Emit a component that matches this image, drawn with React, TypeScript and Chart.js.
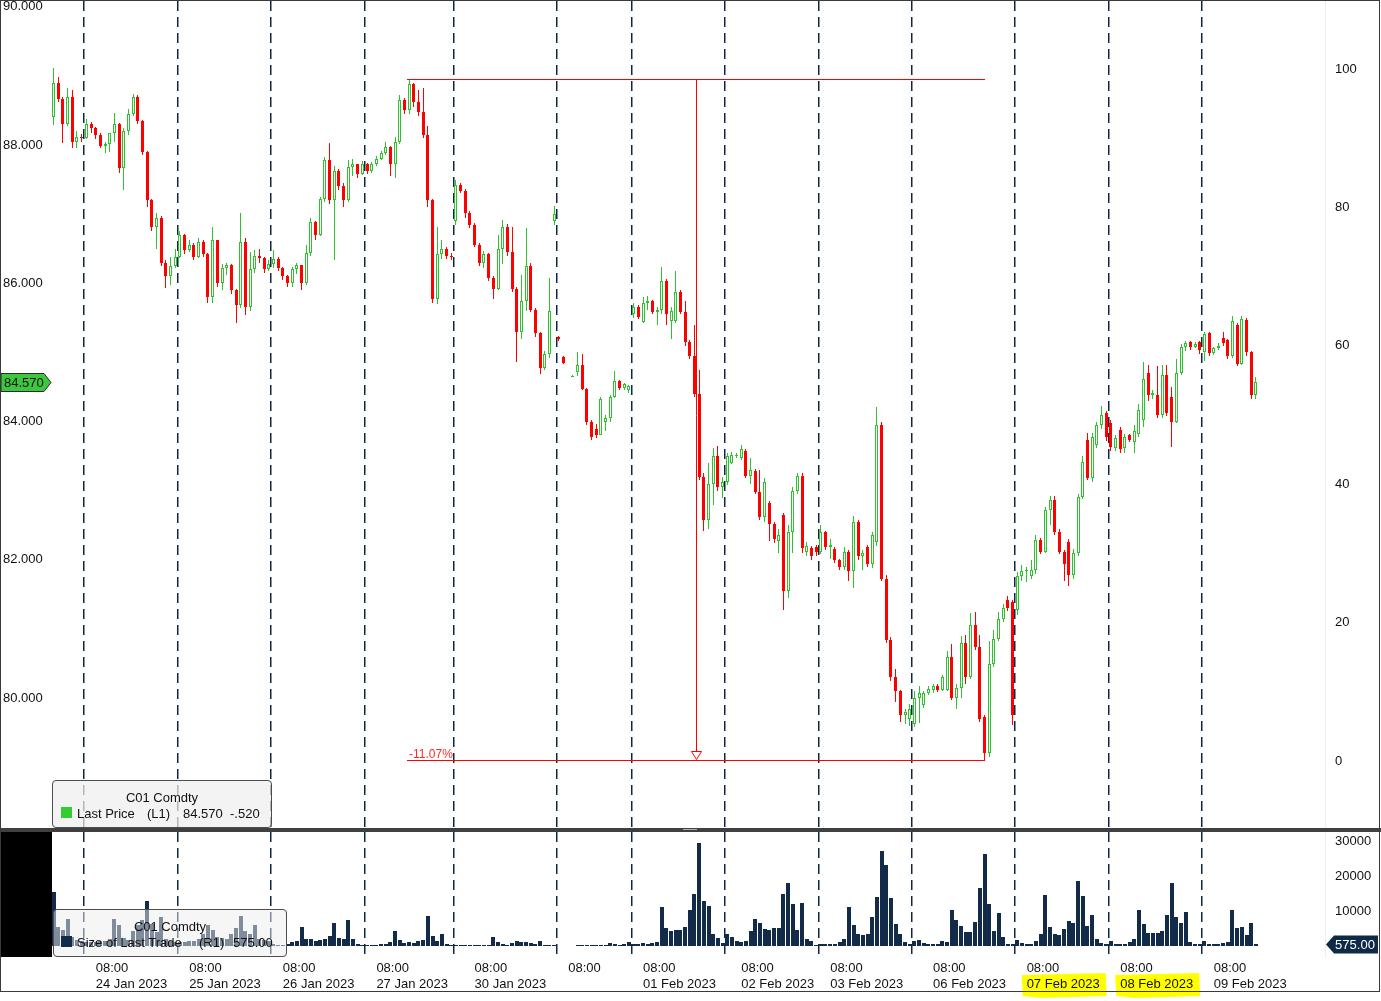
import React, { useEffect, useRef } from 'react';
import { Chart, registerables } from 'chart.js';

Chart.register(...registerables);

// ---------------- DATA ----------------
const opens = [
  88.40, 88.90, 88.66, 88.30, 88.70, 88.05, 88.12, 88.10, 88.30, 88.24,
  88.15, 87.98, 88.02, 88.17, 88.30, 87.67, 88.20, 88.45, 88.70, 88.34,
  87.90, 87.20, 86.82, 86.95, 86.30, 86.10, 86.25, 86.38, 86.70, 86.48,
  86.55, 86.38, 86.60, 86.42, 85.80, 86.62, 86.00, 86.22, 86.26, 85.90,
  85.69, 86.60, 85.66, 86.20, 86.40, 86.36, 86.20, 86.28, 86.35, 86.22,
  86.10, 86.00, 86.20, 86.26, 86.00, 86.44, 86.89, 86.70, 87.22, 87.78,
  87.20, 87.62, 87.40, 87.20, 87.68, 87.72, 87.58, 87.72, 87.62, 87.72,
  87.80, 87.88, 87.97, 87.72, 88.05, 88.65, 88.50, 88.88, 88.62, 88.48,
  88.15, 87.20, 85.78, 86.42, 86.50, 86.40, 86.90, 87.42, 87.34, 87.02,
  86.85, 86.56, 86.30, 86.42, 86.08, 85.92, 86.50, 86.82, 86.45, 85.92,
  85.30, 85.75, 86.25, 85.62, 85.28, 84.77, 84.98, 86.90, 85.22, 84.93,
  null, 84.65, 84.72, 84.82, 84.47, 84.00, 83.90, 83.80, 84.00, 84.05,
  84.36, 84.58, 84.48, 84.46, 85.56, 85.66, 85.44, 85.72, 85.74, 85.58,
  85.62, 86.04, 85.45, 85.45, 85.87, 85.58, 85.15, 84.95, 84.40, 83.20,
  82.58, 83.10, 83.50, 83.05, 83.12, 83.40, 83.50, 83.47, 83.58, 83.22,
  83.28, 82.98, 82.62, 82.82, 82.52, 82.28, 82.65, 81.55, 82.40, 83.00,
  83.21, 82.12, 82.17, 82.18, 82.12, 82.40, 82.18, 82.16, 82.00, 81.90,
  82.12, 81.84, 82.55, 82.05, 82.19, 81.94, 82.26, 83.95, 81.73, 80.84,
  80.31, 80.10, 79.75, 79.70, 79.62, 80.00, 79.90, 80.07, 80.12, 80.18,
  80.12, 80.12, 80.59, 80.01, 80.15, 80.80, 80.30, 81.06, 80.74, 79.73,
  79.21, 80.50, 80.85, 81.15, 81.42, 81.39, 81.28, 81.76, 81.84, 81.76,
  81.86, 82.29, 82.12, 82.72, 82.86, 82.40, 82.12, 82.26, 81.78, 82.10,
  82.91, 83.73, 83.19, 83.66, 83.95, 84.13, 83.98, 83.62, 83.88, 83.62,
  83.80, 83.70, 83.82, 84.02, 84.70, 84.38, 84.38, 84.10, 84.67, 84.36,
  84.00, 84.71, 85.08, 85.15, 85.08, 85.15, 85.00, 85.28, 84.99, 85.06,
  85.21, 85.18, 84.95, 85.40, 84.84, 85.47, 85.00, 84.38,
];

const highs = [
  89.11, 88.98, 88.70, 88.82, 88.80, 88.20, 88.16, 88.38, 88.33, 88.26,
  88.17, 88.05, 88.17, 88.46, 88.32, 88.25, 88.52, 88.74, 88.72, 88.36,
  87.92, 87.22, 87.02, 86.97, 86.33, 86.38, 86.50, 86.75, 86.72, 86.62,
  86.58, 86.65, 86.62, 86.44, 86.82, 86.63, 86.28, 86.30, 86.28, 85.92,
  87.02, 86.65, 86.45, 86.48, 86.50, 86.38, 86.33, 86.48, 86.38, 86.23,
  86.12, 86.24, 86.30, 86.27, 86.55, 86.95, 86.90, 87.25, 87.82, 88.03,
  87.70, 87.65, 87.45, 87.78, 87.80, 87.73, 87.77, 87.74, 87.76, 87.84,
  87.92, 88.05, 87.98, 88.12, 88.72, 88.68, 88.96, 88.90, 88.80, 88.82,
  88.28, 87.22, 86.82, 86.63, 86.52, 86.44, 87.50, 87.45, 87.36, 87.05,
  86.87, 86.58, 86.46, 86.44, 86.10, 86.70, 86.92, 86.86, 86.82, 85.95,
  86.12, 86.80, 86.30, 85.65, 85.30, 85.02, 86.08, 87.12, 85.24, 84.95,
  null, 84.67, 85.00, 84.98, 84.48, 84.02, 83.97, 84.36, 84.10, 84.38,
  84.73, 84.60, 84.56, 84.53, 85.72, 85.68, 85.80, 85.82, 85.76, 85.66,
  86.24, 86.06, 85.66, 86.18, 85.90, 85.74, 85.18, 85.40, 84.75, 83.25,
  83.40, 83.62, 83.64, 83.20, 83.55, 83.56, 83.54, 83.66, 83.60, 83.48,
  83.32, 83.30, 83.18, 82.85, 82.55, 82.45, 82.68, 82.50, 83.05, 83.26,
  83.25, 82.26, 82.20, 82.22, 82.50, 82.42, 82.30, 82.18, 82.02, 82.18,
  82.14, 82.64, 82.58, 82.14, 82.22, 82.40, 84.21, 84.00, 81.78, 80.88,
  80.42, 80.12, 79.84, 79.92, 80.10, 80.18, 80.10, 80.18, 80.20, 80.20,
  80.34, 80.68, 80.78, 80.20, 80.90, 80.92, 81.23, 81.24, 80.92, 79.76,
  80.82, 80.98, 81.25, 81.36, 81.48, 81.42, 81.82, 81.92, 81.90, 82.00,
  82.36, 82.32, 82.76, 82.93, 82.92, 82.45, 82.15, 82.30, 82.16, 82.96,
  83.50, 83.84, 83.84, 84.00, 84.22, 84.16, 84.02, 83.80, 83.92, 83.82,
  83.82, 83.95, 84.25, 84.86, 84.82, 84.45, 84.80, 84.82, 84.82, 84.50,
  84.90, 85.12, 85.16, 85.17, 85.15, 85.17, 85.30, 85.29, 85.08, 85.14,
  85.30, 85.20, 85.52, 85.42, 85.52, 85.50, 85.02, 84.65,
];

const lows = [
  88.29, 88.62, 88.03, 88.28, 87.95, 87.96, 88.05, 88.08, 88.18, 88.08,
  87.95, 87.88, 87.90, 88.05, 87.60, 87.35, 88.15, 88.42, 88.30, 87.85,
  87.10, 86.75, 86.50, 86.25, 85.93, 85.98, 86.22, 86.36, 86.42, 86.45,
  86.33, 86.36, 86.38, 85.72, 85.72, 85.95, 85.90, 86.12, 85.85, 85.43,
  85.65, 85.54, 85.60, 86.15, 86.30, 86.15, 86.18, 86.22, 86.18, 86.05,
  85.95, 85.95, 86.14, 85.90, 85.98, 86.40, 86.62, 86.68, 87.18, 87.15,
  86.34, 87.35, 87.10, 87.18, 87.55, 87.52, 87.56, 87.58, 87.60, 87.70,
  87.78, 87.85, 87.55, 87.52, 88.02, 88.45, 88.45, 88.55, 88.42, 88.10,
  87.10, 85.71, 85.70, 86.35, 86.35, 86.33, 86.85, 87.30, 86.95, 86.80,
  86.52, 86.25, 86.22, 86.03, 85.78, 85.90, 86.28, 86.40, 85.88, 84.86,
  85.20, 85.60, 85.58, 85.22, 84.69, 84.74, 84.92, 86.85, 85.17, 84.83,
  null, 84.64, 84.66, 84.45, 83.95, 83.74, 83.76, 83.80, 83.86, 84.00,
  84.34, 84.45, 84.46, 84.42, 85.50, 85.48, 85.42, 85.62, 85.55, 85.40,
  85.55, 85.40, 85.20, 85.42, 85.55, 85.10, 84.90, 84.35, 83.15, 82.42,
  82.45, 82.80, 83.00, 82.90, 83.08, 83.38, 83.47, 83.45, 83.18, 83.10,
  82.95, 82.58, 82.55, 82.28, 82.25, 82.10, 81.28, 81.45, 82.10, 82.95,
  82.10, 82.05, 82.00, 82.05, 82.08, 82.15, 82.02, 81.96, 81.86, 81.85,
  81.70, 81.60, 82.00, 81.86, 81.90, 81.88, 82.20, 81.70, 80.80, 80.25,
  79.95, 79.65, 79.62, 79.60, 79.58, 79.64, 79.86, 80.04, 80.08, 80.09,
  80.10, 80.10, 79.98, 79.85, 80.00, 80.20, 80.28, 80.70, 79.65, 79.11,
  79.15, 80.45, 80.82, 81.10, 81.26, 79.61, 81.20, 81.70, 81.68, 81.72,
  81.80, 82.08, 82.10, 82.50, 82.36, 82.08, 81.70, 81.62, 81.72, 82.05,
  82.88, 83.15, 83.12, 83.62, 83.90, 83.72, 83.58, 83.58, 83.55, 83.55,
  83.70, 83.55, 83.78, 83.92, 84.30, 84.33, 84.05, 84.05, 84.08, 83.63,
  83.98, 84.68, 85.02, 85.04, 85.06, 84.98, 84.87, 84.95, 84.97, 85.04,
  85.10, 84.90, 84.92, 84.80, 84.82, 84.95, 84.33, 84.33,
];

const closes = [
  88.90, 88.66, 88.30, 88.70, 88.05, 88.12, 88.10, 88.30, 88.24, 88.15,
  87.98, 88.02, 88.17, 88.30, 87.67, 88.20, 88.45, 88.70, 88.34, 87.90,
  87.20, 86.82, 86.95, 86.30, 86.10, 86.25, 86.38, 86.70, 86.48, 86.55,
  86.38, 86.60, 86.42, 85.80, 86.62, 86.00, 86.22, 86.26, 85.90, 85.69,
  86.60, 85.66, 86.20, 86.40, 86.36, 86.20, 86.28, 86.35, 86.22, 86.10,
  86.00, 86.20, 86.26, 86.00, 86.44, 86.89, 86.70, 87.22, 87.78, 87.20,
  87.62, 87.40, 87.20, 87.68, 87.72, 87.58, 87.72, 87.62, 87.72, 87.80,
  87.88, 87.97, 87.72, 88.05, 88.65, 88.50, 88.88, 88.62, 88.48, 88.15,
  87.20, 85.78, 86.42, 86.50, 86.40, 86.38, 87.42, 87.34, 87.02, 86.85,
  86.56, 86.30, 86.42, 86.08, 85.92, 86.50, 86.82, 86.45, 85.92, 85.30,
  85.75, 86.25, 85.62, 85.28, 84.77, 84.98, 85.60, 87.00, 85.19, 84.85,
  null, 84.66, 84.82, 84.47, 84.00, 83.78, 83.80, 84.33, 84.05, 84.36,
  84.58, 84.48, 84.54, 84.52, 85.66, 85.51, 85.72, 85.74, 85.58, 85.62,
  86.04, 85.56, 85.60, 85.87, 85.58, 85.15, 84.95, 84.40, 83.20, 82.58,
  83.10, 83.50, 83.05, 83.12, 83.50, 83.52, 83.51, 83.60, 83.22, 83.30,
  82.98, 82.62, 83.12, 82.52, 82.30, 82.36, 81.55, 82.40, 83.00, 83.22,
  82.17, 82.20, 82.06, 82.12, 82.40, 82.18, 82.22, 82.00, 81.90, 82.12,
  81.84, 82.55, 82.05, 82.10, 81.94, 82.36, 83.95, 81.73, 80.84, 80.31,
  80.10, 79.75, 79.80, 79.84, 80.00, 80.08, 80.07, 80.14, 80.18, 80.12,
  80.30, 80.59, 80.01, 80.15, 80.80, 80.30, 81.06, 80.74, 79.70, 79.21,
  80.50, 80.85, 81.15, 81.30, 81.30, 79.76, 81.76, 81.84, 81.86, 81.86,
  82.29, 82.12, 82.72, 82.86, 82.40, 82.12, 81.94, 81.78, 82.10, 82.91,
  83.41, 83.19, 83.78, 83.95, 84.10, 83.78, 83.63, 83.76, 83.60, 83.78,
  83.74, 83.86, 84.17, 84.61, 84.38, 84.42, 84.10, 84.67, 84.13, 84.00,
  84.71, 85.08, 85.14, 85.08, 85.12, 85.04, 85.26, 84.99, 85.06, 85.10,
  85.14, 84.95, 85.45, 84.84, 85.48, 85.00, 84.38, 84.57,
];

const tradeSizes = [
  15600, 5600, 4800, 7900, 2700, 1900, 1500, 1300, 1200, 1400,
  1600, 1500, 2000, 7900, 6100, 2500, 1800, 4500, 6100, 7600,
  13000, 6500, 4000, 8400, 2200, 1600, 1300, 1300, 1200, 1500,
  1600, 2000, 3500, 6100, 4600, 2700, 2400, 2000, 3500, 5200,
  8700, 4400, 3500, 6100, 2000, 1800, 1500, 600, 400, 500,
  700, 1200, 1500, 5600, 2200, 2000, 1600, 1800, 2200, 3000,
  6700, 2400, 2200, 7600, 2000, 600, 400, 300, 400, 500,
  600, 700, 1200, 4400, 1800, 1000, 1200, 1000, 1600, 1800,
  8700, 3000, 1500, 3600, 600, 400, 500, 400, 500, 400,
  300, 400, 300, 500, 2700, 1200, 600, 500, 900, 1600,
  1200, 1300, 1000, 600, 1600, 500, 300, 300, 200, 150,
  null, 100, 300, 300, 400, 300, 300, 400, 500, 900,
  600, 400, 800, 1300, 800, 700, 900, 700, 1000, 1200,
  11300, 5200, 4400, 4700, 4800, 5600, 10400, 15000, 29600, 12900,
  11500, 3500, 2500, 1000, 3700, 2700, 1600, 1400, 1500, 4300,
  7900, 6700, 5000, 4800, 5200, 5400, 15000, 18200, 12100, 4700,
  12300, 2000, 1600, 500, 800, 700, 700, 800, 1300, 2200,
  11300, 6000, 3700, 3300, 3700, 8400, 14100, 27200, 23300, 13900,
  6500, 3500, 1300, 700, 1500, 1900, 1000, 700, 700, 700,
  1600, 1200, 10400, 7600, 5900, 4100, 4100, 7000, 16700, 26400,
  12100, 4400, 9600, 2700, 800, 600, 1900, 1000, 700, 700,
  1700, 3500, 14700, 5600, 3500, 3200, 5000, 7300, 6800, 18700,
  14400, 5900, 9000, 2000, 900, 800, 1500, 700, 700, 800,
  1300, 2100, 10400, 6400, 3900, 3800, 3800, 4500, 9000, 18200,
  8400, 6800, 9900, 1300, 700, 700, 1500, 700, 700, 800,
  1000, 1300, 10400, 5300, 5600, 3300, 6700, 575,
];

// first bar index of each trading day (dashed separators)
const dayStartBars = [7, 27, 47, 67, 86, 108, 124, 144, 164, 184, 206, 226, 246];
// bar index of the 08:00 bar of each day (axis labels)
const labelBars = [9, 29, 49, 69, 90, 110, 126, 147, 166, 188, 208, 228, 248];
const timeLabels = ['08:00', '08:00', '08:00', '08:00', '08:00', '08:00', '08:00', '08:00', '08:00', '08:00', '08:00', '08:00', '08:00'];
const dateLabels = ['24 Jan 2023', '25 Jan 2023', '26 Jan 2023', '27 Jan 2023', '30 Jan 2023', '', '01 Feb 2023', '02 Feb 2023', '03 Feb 2023', '06 Feb 2023', '07 Feb 2023', '08 Feb 2023', '09 Feb 2023'];
const highlightedDates = ['07 Feb 2023', '08 Feb 2023'];

const priceTicks = [80, 82, 84, 86, 88, 90];
const drawdownTicks = [0, 20, 40, 60, 80, 100];
const sizeTicks = [10000, 20000, 30000];

const drawdownFrom = 76;
const drawdownTo = 199;
const netChange = -0.52;
const ticker = 'C01 Comdty';

// ---------------- STYLE / LAYOUT ----------------
const FONT = "'Liberation Sans', Arial, sans-serif";
const GREEN = '#2fc22f';
const RED = '#ff0000';
const NAVY = '#122b48';
const DASH = '#0d2744';

const X_MIN = -11.244;
const X_MAX = 271.78;
const P_MIN = 78.1229;
const P_MAX = 90.0824;
const R_MIN = -9.68;
const R_MAX = 109.83;
const V_MIN = -3000;
const V_MAX = 32714;

const last = closes.length - 1;

const setTicks = (values: number[]) => (axis: any) => {
  axis.ticks = values.map((v) => ({ value: v }));
};

const dayGridAxis = () => ({
  type: 'linear',
  axis: 'x',
  position: 'bottom',
  min: X_MIN,
  max: X_MAX,
  offset: false,
  grid: { display: true, offset: false, color: DASH, lineWidth: 1.5, drawTicks: false, borderDash: [10, 6] },
  border: { display: false, dash: [10, 6] },
  ticks: { display: false },
  afterBuildTicks: (axis: any) => {
    axis.ticks = dayStartBars.map((s) => ({ value: s - 0.5 }));
  },
  afterFit: (s: any) => {
    s.height = 0;
    s.paddingLeft = 0;
    s.paddingRight = 0;
  },
});

// snaps bar elements onto the pixel grid so thin candles stay crisp
const pixelSnapPlugin = {
  id: 'pixelSnap',
  afterDatasetsUpdate(chart: any) {
    chart.data.datasets.forEach((_: any, di: number) => {
      const meta = chart.getDatasetMeta(di);
      meta.data.forEach((el: any) => {
        const w = Math.round(el.width || 1);
        el.x = w % 2 === 1 ? Math.floor(el.x) + 0.5 : Math.round(el.x);
        el.y = Math.round(el.y);
        el.base = Math.round(el.base);
      });
    });
  },
};

const drawdownPlugin = {
  id: 'drawdown',
  afterDatasetsDraw(chart: any) {
    const { ctx, scales } = chart;
    const x = scales.x;
    const y = scales.y;
    const hi = highs[drawdownFrom] as number;
    const lo = lows[drawdownTo] as number;
    const x1 = Math.round(x.getPixelForValue(drawdownFrom)) - 2;
    const x2 = Math.round(x.getPixelForValue(drawdownTo));
    const yT = Math.round(y.getPixelForValue(hi)) + 0.5;
    const yB = Math.round(y.getPixelForValue(lo)) + 0.5;
    const xm = Math.round((x1 + x2) / 2) + 0.5;
    ctx.save();
    ctx.strokeStyle = RED;
    ctx.lineWidth = 1;
    ctx.beginPath();
    ctx.moveTo(x1, yT);
    ctx.lineTo(x2, yT);
    ctx.moveTo(x1, yB);
    ctx.lineTo(x2, yB);
    ctx.moveTo(xm, yT);
    ctx.lineTo(xm, yB - 9);
    ctx.stroke();
    ctx.beginPath();
    ctx.moveTo(xm - 5, yB - 9);
    ctx.lineTo(xm + 5, yB - 9);
    ctx.lineTo(xm, yB - 1);
    ctx.closePath();
    ctx.fillStyle = '#ffffff';
    ctx.fill();
    ctx.stroke();
    const pct = (lo / hi - 1) * 100;
    ctx.fillStyle = '#ff2a2a';
    ctx.font = '12px ' + FONT;
    ctx.textAlign = 'left';
    ctx.textBaseline = 'alphabetic';
    ctx.fillText(pct.toFixed(2) + '%', x1 + 2, yB - 3);
    ctx.restore();
  },
};

const priceTagPlugin = {
  id: 'priceTag',
  afterDraw(chart: any) {
    const { ctx } = chart;
    const v = closes[last] as number;
    const y = Math.round(chart.scales.y.getPixelForValue(v)) + 0.5;
    ctx.save();
    ctx.beginPath();
    ctx.moveTo(1, y - 9);
    ctx.lineTo(44, y - 9);
    ctx.lineTo(51, y);
    ctx.lineTo(44, y + 9);
    ctx.lineTo(1, y + 9);
    ctx.closePath();
    ctx.fillStyle = '#3cc83c';
    ctx.fill();
    ctx.strokeStyle = '#2b2b2b';
    ctx.lineWidth = 1;
    ctx.stroke();
    ctx.fillStyle = '#111';
    ctx.font = '13px ' + FONT;
    ctx.textAlign = 'left';
    ctx.textBaseline = 'middle';
    ctx.fillText(v.toFixed(3), 4, y + 0.5);
    ctx.restore();
  },
};

const sizeTagPlugin = {
  id: 'sizeTag',
  afterDraw(chart: any) {
    const { ctx } = chart;
    const v = tradeSizes[last] as number;
    const y = Math.round(chart.scales.y.getPixelForValue(v)) + 0.5;
    ctx.save();
    ctx.beginPath();
    ctx.moveTo(1326, y);
    ctx.lineTo(1334, y - 9);
    ctx.lineTo(1378, y - 9);
    ctx.lineTo(1378, y + 9);
    ctx.lineTo(1334, y + 9);
    ctx.closePath();
    ctx.fillStyle = '#0f2a47';
    ctx.fill();
    ctx.fillStyle = '#ffffff';
    ctx.font = '13px ' + FONT;
    ctx.textAlign = 'center';
    ctx.textBaseline = 'middle';
    ctx.fillText(v.toFixed(2), 1355, y + 0.5);
    ctx.restore();
  },
};

const highlightPlugin = {
  id: 'highlight',
  beforeDraw(chart: any) {
    const { ctx } = chart;
    const x = chart.scales.x;
    ctx.save();
    ctx.fillStyle = '#ffff00';
    dateLabels.forEach((d, k) => {
      if (!highlightedDates.includes(d)) return;
      const px = x.getPixelForValue(labelBars[k]);
      const a = px - 5;
      const b = px + 79;
      ctx.beginPath();
      ctx.moveTo(a, 143);
      ctx.lineTo(b, 141);
      ctx.lineTo(b + 1, 164);
      ctx.lineTo(a + 20, 166);
      ctx.lineTo(a + 1, 164);
      ctx.closePath();
      ctx.fill();
    });
    ctx.restore();
  },
};

export default function App() {
  const mainRef = useRef<HTMLCanvasElement>(null);
  const volRef = useRef<HTMLCanvasElement>(null);

  useEffect(() => {
    document.body.style.margin = '0';
    Chart.defaults.font.family = FONT;
    Chart.defaults.font.size = 13;
    Chart.defaults.color = '#111';

    const idx = closes.map((_, i) => i).filter((i) => closes[i] !== null);
    const up = (i: number) => (closes[i] as number) >= (opens[i] as number);
    const wickData = idx.map((i) => ({ x: i, y: [lows[i], highs[i]], up: up(i) }));
    const bodyData = idx.map((i) => ({ x: i, y: [opens[i], closes[i]], up: up(i) }));
    const volData = tradeSizes
      .map((v, i) => ({ x: i, y: v }))
      .filter((p) => p.y !== null);

    const main = new Chart(mainRef.current as HTMLCanvasElement, {
      type: 'bar',
      data: {
        datasets: [
          {
            data: wickData as any,
            xAxisID: 'x',
            yAxisID: 'y',
            grouped: false,
            order: 2,
            barThickness: 1,
            borderWidth: 0,
            inflateAmount: 0,
            backgroundColor: (c: any) => (c.raw && c.raw.up ? GREEN : RED),
          } as any,
          {
            data: bodyData as any,
            xAxisID: 'x',
            yAxisID: 'y',
            grouped: false,
            order: 1,
            barThickness: 3,
            minBarLength: 1,
            borderWidth: 1,
            borderSkipped: false,
            inflateAmount: 0,
            backgroundColor: (c: any) => (c.raw && c.raw.up ? '#ffffff' : RED),
            borderColor: (c: any) => (c.raw && c.raw.up ? GREEN : RED),
          } as any,
        ],
      },
      options: {
        responsive: false,
        animation: false,
        events: [],
        layout: { padding: { top: 1, left: 0, right: 0, bottom: 0 } },
        plugins: { legend: { display: false }, tooltip: { enabled: false } },
        scales: {
          x: {
            type: 'linear',
            min: X_MIN,
            max: X_MAX,
            display: false,
            offset: false,
            grid: { offset: false },
          },
          xd: dayGridAxis() as any,
          y: {
            type: 'linear',
            position: 'left',
            min: P_MIN,
            max: P_MAX,
            grid: { display: false, drawTicks: false },
            border: { display: false },
            ticks: {
              mirror: true,
              padding: 2,
              color: '#111',
              font: { size: 13 },
              callback: (v: any) => Number(v).toFixed(3),
            },
            afterBuildTicks: setTicks(priceTicks),
            afterFit: (s: any) => {
              s.width = 1;
              s.paddingTop = 0;
              s.paddingBottom = 0;
            },
          },
          y2: {
            type: 'linear',
            position: 'right',
            min: R_MIN,
            max: R_MAX,
            grid: { display: false, drawTicks: false },
            border: { display: true, color: '#eeeeee' },
            ticks: {
              padding: 10,
              color: '#111',
              font: { size: 13 },
              callback: (v: any) => String(v),
            },
            afterBuildTicks: setTicks(drawdownTicks),
            afterFit: (s: any) => {
              s.width = 56;
              s.paddingTop = 0;
              s.paddingBottom = 0;
            },
          },
        } as any,
      },
      plugins: [pixelSnapPlugin, drawdownPlugin, priceTagPlugin],
    });

    const vol = new Chart(volRef.current as HTMLCanvasElement, {
      type: 'bar',
      data: {
        datasets: [
          {
            data: volData as any,
            xAxisID: 'x',
            yAxisID: 'y',
            grouped: false,
            barThickness: 4,
            borderWidth: 0,
            inflateAmount: 0,
            backgroundColor: NAVY,
          } as any,
        ],
      },
      options: {
        responsive: false,
        animation: false,
        events: [],
        layout: { padding: { top: 0, left: 1, right: 0, bottom: 0 } },
        plugins: { legend: { display: false }, tooltip: { enabled: false } },
        scales: {
          x: {
            type: 'linear',
            position: 'bottom',
            min: X_MIN,
            max: X_MAX,
            offset: false,
            grid: { display: false, offset: false, drawTicks: false },
            border: { display: false },
            ticks: {
              autoSkip: false,
              maxRotation: 0,
              minRotation: 0,
              align: 'start',
              padding: 4,
              color: '#111',
              font: { size: 13 },
              callback: (v: any) => {
                const k = labelBars.indexOf(Number(v));
                if (k < 0) return '';
                return dateLabels[k] ? [timeLabels[k], dateLabels[k]] : timeLabels[k];
              },
            },
            afterBuildTicks: setTicks(labelBars),
            afterFit: (s: any) => {
              s.height = 44;
              s.paddingLeft = 0;
              s.paddingRight = 0;
            },
          },
          xd: dayGridAxis() as any,
          y: {
            type: 'linear',
            position: 'right',
            min: V_MIN,
            max: V_MAX,
            grid: { display: false, drawTicks: false },
            border: { display: true, color: '#eeeeee' },
            ticks: {
              padding: 10,
              color: '#111',
              font: { size: 13 },
              callback: (v: any) => String(v),
            },
            afterBuildTicks: setTicks(sizeTicks),
            afterFit: (s: any) => {
              s.width = 56;
              s.paddingTop = 0;
              s.paddingBottom = 0;
            },
          },
        } as any,
      },
      plugins: [pixelSnapPlugin, highlightPlugin, sizeTagPlugin],
    });

    return () => {
      main.destroy();
      vol.destroy();
    };
  }, []);

  const lastPrice = (closes[last] as number).toFixed(3);
  const changeText = (netChange < 0 ? '-' : '') + Math.abs(netChange).toFixed(3).replace(/^0/, '');
  const lastSize = (tradeSizes[last] as number).toFixed(2);

  const legendBox: React.CSSProperties = {
    position: 'absolute',
    boxSizing: 'border-box',
    border: '1px solid #4d4d4d',
    borderRadius: 4,
    font: `13px ${FONT}`,
    color: '#111',
  };
  const span = (left: number, top: number): React.CSSProperties => ({
    position: 'absolute',
    left,
    top,
    lineHeight: '16px',
    whiteSpace: 'pre',
  });

  return (
    <div style={{ position: 'absolute', left: 0, top: 0, width: 1381, height: 1001, background: '#ffffff', overflow: 'hidden' }}>
      <canvas ref={mainRef} width={1381} height={828} style={{ position: 'absolute', left: 0, top: 0, width: 1381, height: 828 }} />
      <div style={{ position: 'absolute', left: 0, top: 828, width: 1381, height: 4, background: '#404040' }} />
      <div style={{ position: 'absolute', left: 683, top: 829, width: 14, height: 1, background: '#b0b0b0' }} />
      <canvas ref={volRef} width={1381} height={169} style={{ position: 'absolute', left: 0, top: 832, width: 1381, height: 169 }} />
      <div style={{ position: 'absolute', left: 0, top: 832, width: 52, height: 125, background: '#000000' }} />

      <div style={{ ...legendBox, left: 52, top: 780, width: 220, height: 48, background: 'rgba(238,238,238,0.72)' }}>
        <div style={{ position: 'absolute', left: 0, right: 0, top: 9, lineHeight: '16px', textAlign: 'center' }}>{ticker}</div>
        <div style={{ position: 'absolute', left: 8, top: 26, width: 11, height: 11, background: '#33cc33' }} />
        <span style={span(24, 25)}>Last Price</span>
        <span style={span(94, 25)}>(L1)</span>
        <span style={span(130, 25)}>{lastPrice}</span>
        <span style={span(177, 25)}>{changeText}</span>
      </div>

      <div style={{ ...legendBox, left: 53, top: 909, width: 234, height: 48, background: 'rgba(238,238,238,0.5)' }}>
        <div style={{ position: 'absolute', left: 0, right: 0, top: 9, lineHeight: '16px', textAlign: 'center' }}>{ticker}</div>
        <div style={{ position: 'absolute', left: 7, top: 26, width: 11, height: 11, background: NAVY }} />
        <span style={span(23, 25)}>Size of Last Trade</span>
        <span style={span(145, 25)}>(R1)</span>
        <span style={span(179, 25)}>{lastSize}</span>
      </div>

      <div style={{ position: 'absolute', left: 0, top: 0, width: 1380, height: 992, boxSizing: 'border-box', border: '1px solid #3a3a3a', pointerEvents: 'none' }} />
    </div>
  );
}
